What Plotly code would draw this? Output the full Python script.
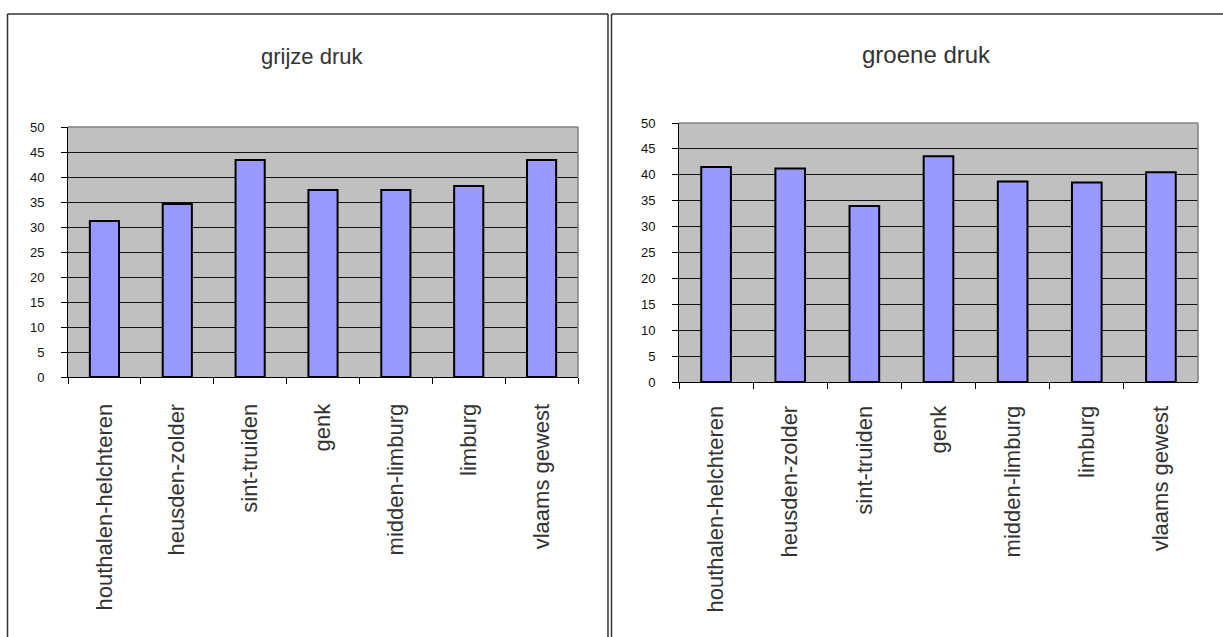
import plotly.graph_objects as go

categories = ["houthalen-helchteren", "heusden-zolder", "sint-truiden", "genk",
              "midden-limburg", "limburg", "vlaams gewest"]
grijze_druk = [31.2, 34.6, 43.4, 37.4, 37.4, 38.2, 43.4]
groene_druk = [41.5, 41.2, 34.0, 43.6, 38.7, 38.5, 40.5]
y_ticks = [0, 5, 10, 15, 20, 25, 30, 35, 40, 45, 50]
titles = ["grijze druk", "groene druk"]

W, H = 1223, 637
def px(x):
    return x / W
def py(y):
    return 1 - y / H

FONT = "Liberation Sans, Arial, sans-serif"
BAR_FILL = "#9999ff"

fig = go.Figure()
fig.add_trace(go.Bar(x=categories, y=grijze_druk, xaxis="x", yaxis="y",
                     width=0.4, marker=dict(color=BAR_FILL, line=dict(color="black", width=2))))
fig.add_trace(go.Bar(x=categories, y=groene_druk, xaxis="x2", yaxis="y2",
                     width=0.4, marker=dict(color=BAR_FILL, line=dict(color="black", width=2))))

xcommon = dict(type="category", tickson="boundaries", ticks="outside", ticklen=6,
               tickcolor="black", tickwidth=1, showline=True, linecolor="black", linewidth=1,
               showgrid=False, tickangle=-90,
               tickfont=dict(family=FONT, size=22, color="#333"), automargin=False,
               fixedrange=True)
ycommon = dict(range=[0, 50], tickvals=y_ticks, ticks="outside", ticklen=6, tickcolor="black",
               showline=True, linecolor="black", linewidth=1, showgrid=True,
               gridcolor="#111", gridwidth=1, zeroline=False, ticklabelstandoff=14,
               tickfont=dict(family=FONT, size=13, color="#111"), automargin=False,
               fixedrange=True)

fig.update_layout(
    width=W, height=H, autosize=False,
    margin=dict(l=0, r=0, t=0, b=0),
    paper_bgcolor="white", plot_bgcolor="#c0c0c0",
    showlegend=False, bargap=0.6,
    xaxis=dict(domain=[px(68), px(578)], anchor="y", ticklabelstandoff=17, **xcommon),
    yaxis=dict(domain=[py(377), py(127)], anchor="x", **ycommon),
    xaxis2=dict(domain=[px(679), px(1198)], anchor="y2", ticklabelstandoff=14, **xcommon),
    yaxis2=dict(domain=[py(382), py(123)], anchor="x2", **ycommon),
)

# titles
fig.add_annotation(text=titles[0], x=px(312), y=py(56), xref="paper", yref="paper",
                   showarrow=False, xanchor="center", yanchor="middle",
                   font=dict(family=FONT, size=22, color="#333"))
fig.add_annotation(text=titles[1], x=px(926), y=py(54), xref="paper", yref="paper",
                   showarrow=False, xanchor="center", yanchor="middle",
                   font=dict(family=FONT, size=24, color="#333"))

shapes = []
# gray top/right border of plot areas
for xr, yr in (("x", "y"), ("x2", "y2")):
    shapes.append(dict(type="line", xref=xr + " domain", yref=yr + " domain",
                       x0=0, x1=1, y0=1, y1=1, line=dict(color="#808080", width=1.5)))
    shapes.append(dict(type="line", xref=xr + " domain", yref=yr + " domain",
                       x0=1, x1=1, y0=0, y1=1, line=dict(color="#808080", width=1.5)))

border = dict(color="#333", width=1.5)
shapes += [
    dict(type="line", xref="paper", yref="paper", x0=px(7.5), x1=px(7.5), y0=py(14), y1=-0.05, line=border),
    dict(type="line", xref="paper", yref="paper", x0=px(7.5), x1=px(608), y0=py(14), y1=py(14), line=border),
    dict(type="line", xref="paper", yref="paper", x0=px(608), x1=px(608), y0=py(14), y1=-0.05, line=border),
    dict(type="line", xref="paper", yref="paper", x0=px(611.5), x1=px(611.5), y0=py(14), y1=-0.05, line=border),
    dict(type="line", xref="paper", yref="paper", x0=px(611.5), x1=1.01, y0=py(14), y1=py(14), line=border),
]
fig.update_layout(shapes=shapes)

fig.write_html("out.html", config={"displayModeBar": False},
               post_script="document.body.style.margin='0px';document.body.style.overflow='hidden';")
